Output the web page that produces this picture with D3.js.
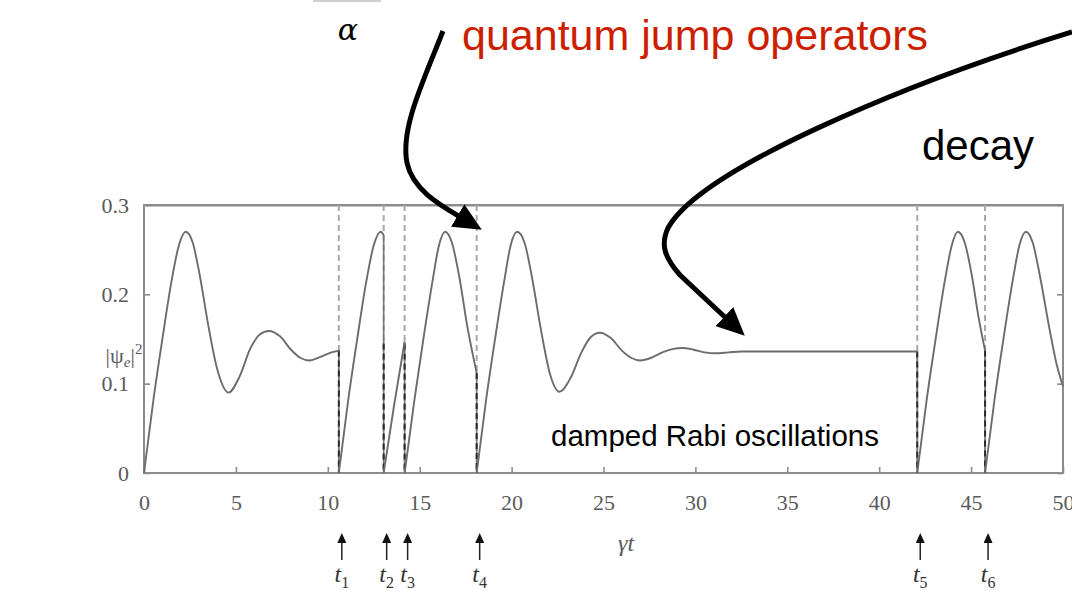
<!DOCTYPE html>
<html>
<head>
<meta charset="utf-8">
<script src="https://cdn.jsdelivr.net/npm/d3@7"></script>
<style>
  html, body { margin: 0; padding: 0; background: #fff; }
  svg { display: block; }
</style>
</head>
<body>
<svg width="1072" height="591"></svg>
<script>
// tick values
const xTicks = [0, 5, 10, 15, 20, 25, 30, 35, 40, 45, 50];
const yTicks = [0, 0.1, 0.2, 0.3];

// jump times t1..t6 (gamma t)
const jumpTimes = [10.6, 13.04, 14.18, 18.1, 42.07, 45.76];
const jumpNames = ['1', '2', '3', '4', '5', '6'];

// |psi_e|^2, one array per stretch between jumps
const seg0 = [[0, 0], [0.5, 0.08], [1.0, 0.15], [1.5, 0.215], [1.9, 0.255], [2.27, 0.27], [2.65, 0.258],
  [3.0, 0.225], [3.5, 0.165], [4.0, 0.115], [4.6, 0.09], [5.2, 0.108], [5.8, 0.14], [6.3, 0.155],
  [6.8, 0.159], [7.4, 0.153], [8.0, 0.138], [8.5, 0.129], [9.0, 0.126], [9.6, 0.13], [10.2, 0.135], [10.6, 0.137]];
const seg1 = [[10.6, 0], [11.1, 0.08], [11.6, 0.15], [12.1, 0.215], [12.5, 0.255], [12.88, 0.27], [13.04, 0.266]];
const seg2 = [[13.04, 0], [13.6, 0.075], [14.18, 0.147]];
const seg3 = [[14.18, 0], [14.7, 0.08], [15.2, 0.15], [15.7, 0.215], [16.05, 0.255], [16.38, 0.27],
  [16.75, 0.258], [17.15, 0.22], [17.6, 0.163], [18.1, 0.112]];
const seg4 = [[18.1, 0], [18.6, 0.08], [19.1, 0.15], [19.6, 0.215], [19.95, 0.255], [20.3, 0.27],
  [20.7, 0.258], [21.1, 0.22], [21.6, 0.16], [22.1, 0.11], [22.6, 0.091], [23.2, 0.106], [23.8, 0.135],
  [24.3, 0.152], [24.8, 0.157], [25.4, 0.151], [26.0, 0.137], [26.5, 0.129], [27.0, 0.126], [27.6, 0.129],
  [28.2, 0.135], [28.8, 0.139], [29.3, 0.14], [29.9, 0.138], [30.5, 0.135], [31.1, 0.134], [31.8, 0.135],
  [32.5, 0.136], [33.5, 0.136], [35, 0.136], [37, 0.136], [39, 0.136], [41, 0.136], [42.07, 0.136]];
const seg5 = [[42.07, 0], [42.57, 0.08], [43.07, 0.15], [43.57, 0.215], [43.95, 0.255], [44.28, 0.27],
  [44.65, 0.258], [45.05, 0.22], [45.4, 0.175], [45.76, 0.137]];
const seg6 = [[45.76, 0], [46.26, 0.08], [46.76, 0.15], [47.26, 0.215], [47.63, 0.255], [47.98, 0.27],
  [48.35, 0.258], [48.75, 0.22], [49.25, 0.163], [49.65, 0.122], [50, 0.097]];
const segments = [seg0, seg1, seg2, seg3, seg4, seg5, seg6];

const svg = d3.select('svg');
const x = d3.scaleLinear().domain([0, 50]).range([144, 1063]);
const y = d3.scaleLinear().domain([0, 0.3]).range([473, 205]);

const frameCol = '#8c8c8c';
const textCol = '#5a5a5a';
const serif = '"Liberation Serif", "DejaVu Serif", serif';
const sans = '"Liberation Sans", Arial, sans-serif';

// little grey bar above alpha (cut-off fraction)
svg.append('line')
    .attr('x1', 313).attr('x2', 381).attr('y1', 1).attr('y2', 1)
    .attr('stroke', '#cfcfcf').attr('stroke-width', 2);

// frame
svg.append('rect')
    .attr('x', x(0)).attr('y', y(0.3))
    .attr('width', x(50) - x(0)).attr('height', y(0) - y(0.3))
    .attr('fill', 'none').attr('stroke', frameCol).attr('stroke-width', 2);
svg.append('line')
    .attr('x1', x(0)).attr('x2', x(50)).attr('y1', y(0.3) + 1.5).attr('y2', y(0.3) + 1.5)
    .attr('stroke', '#c4c4c4').attr('stroke-width', 1.2);

// axes (ticks pointing inside)
const gx = svg.append('g')
    .attr('transform', `translate(0,${y(0)})`)
    .call(d3.axisBottom(x).tickValues(xTicks).tickSize(-6).tickPadding(21).tickFormat(d3.format('d')));
const gy = svg.append('g')
    .attr('transform', `translate(${x(0)},0)`)
    .call(d3.axisLeft(y).tickValues(yTicks).tickSize(-6).tickPadding(15)
      .tickFormat(d => d === 0 ? '0' : d3.format('.1f')(d)));
const gr = svg.append('g')
    .attr('transform', `translate(${x(50)},0)`)
    .call(d3.axisRight(y).tickValues(yTicks).tickSize(-6).tickFormat(''));

[gx, gy, gr].forEach(g => {
  g.select('.domain').remove();
  g.selectAll('line').attr('stroke', frameCol).attr('stroke-width', 1.6);
  g.selectAll('text')
      .attr('fill', textCol)
      .style('font-family', serif)
      .style('font-size', '22px');
});

// dashed jump markers
jumpTimes.forEach((t, i) => {
  const pre = segments[i][segments[i].length - 1][1];
  svg.append('line')
      .attr('x1', x(t)).attr('x2', x(t)).attr('y1', y(0.3)).attr('y2', y(0))
      .attr('stroke', '#a8a8a8').attr('stroke-width', 2).attr('stroke-dasharray', '6,4');
  // drop of the curve to zero
  svg.append('line')
      .attr('x1', x(t)).attr('x2', x(t)).attr('y1', y(pre)).attr('y2', y(0))
      .attr('stroke', '#777').attr('stroke-width', 1.6);
  svg.append('line')
      .attr('x1', x(t)).attr('x2', x(t)).attr('y1', y(Math.min(pre, 0.145))).attr('y2', y(0))
      .attr('stroke', '#2a2a2a').attr('stroke-width', 2).attr('stroke-dasharray', '6,4');
});

// trajectory
const line = d3.line()
    .x(d => x(d[0]))
    .y(d => y(d[1]))
    .curve(d3.curveMonotoneX);

svg.selectAll('path.traj')
    .data(segments)
    .enter()
    .append('path')
    .attr('class', 'traj')
    .attr('d', line)
    .attr('fill', 'none')
    .attr('stroke', '#6c6c6c')
    .attr('stroke-width', 1.9);

// axis labels
const yl = svg.append('text')
    .attr('x', 124).attr('y', 363)
    .attr('text-anchor', 'middle')
    .attr('fill', textCol)
    .style('font-family', serif)
    .style('font-size', '22px');
yl.append('tspan').text('|ψ');
yl.append('tspan').attr('dy', 4).style('font-size', '15px').style('font-style', 'italic').text('e');
yl.append('tspan').attr('dy', -4).text('|');
yl.append('tspan').attr('dy', -9).style('font-size', '15px').text('2');

svg.append('text')
    .attr('x', 626).attr('y', 551)
    .attr('text-anchor', 'middle')
    .attr('fill', textCol)
    .style('font-family', serif)
    .style('font-style', 'italic')
    .style('font-size', '24px')
    .text('γt');

// arrow markers
const defs = svg.append('defs');
defs.append('marker')
    .attr('id', 'bigHead')
    .attr('markerUnits', 'userSpaceOnUse')
    .attr('viewBox', '0 0 28 26')
    .attr('markerWidth', 28).attr('markerHeight', 26)
    .attr('refX', 5).attr('refY', 13)
    .attr('orient', 'auto')
    .append('path')
    .attr('d', 'M0,0 L28,13 L0,26 Z')
    .attr('fill', '#000');
defs.append('marker')
    .attr('id', 'smallHead')
    .attr('markerUnits', 'userSpaceOnUse')
    .attr('viewBox', '0 0 10 9')
    .attr('markerWidth', 11).attr('markerHeight', 9)
    .attr('refX', 2).attr('refY', 4.5)
    .attr('orient', 'auto')
    .append('path')
    .attr('d', 'M0,0 L10,4.5 L0,9 Z')
    .attr('fill', '#111');

// jump time arrows under the axis
jumpTimes.forEach((t, i) => {
  const xx = x(t) + 3;
  svg.append('line')
      .attr('x1', xx).attr('x2', xx).attr('y1', 560).attr('y2', 541)
      .attr('stroke', '#222').attr('stroke-width', 1.5)
      .attr('marker-end', 'url(#smallHead)');
  const lab = svg.append('text')
      .attr('x', xx).attr('y', 582)
      .attr('text-anchor', 'middle')
      .attr('fill', '#333')
      .style('font-family', serif)
      .style('font-size', '24px');
  lab.append('tspan').style('font-style', 'italic').text('t');
  lab.append('tspan').attr('dy', 6).style('font-size', '16px').text(jumpNames[i]);
});

// annotations
svg.append('text')
    .attr('x', 348).attr('y', 40)
    .attr('text-anchor', 'middle')
    .style('font-family', '"DejaVu Serif", serif')
    .style('font-style', 'italic')
    .style('font-size', '30px')
    .attr('fill', '#000')
    .text('α');

svg.append('text')
    .attr('x', 462).attr('y', 50)
    .style('font-family', sans)
    .style('font-size', '43px')
    .attr('fill', '#cc1f00')
    .text('quantum jump operators');

svg.append('text')
    .attr('x', 922).attr('y', 160)
    .style('font-family', sans)
    .style('font-size', '42px')
    .attr('fill', '#000')
    .text('decay');

svg.append('text')
    .attr('x', 551).attr('y', 446)
    .style('font-family', sans)
    .style('font-size', '29.5px')
    .attr('fill', '#000')
    .text('damped Rabi oscillations');

svg.append('path')
    .attr('d', 'M443,31 C424,80 400,128 407,163 C413,190 440,205 462,218')
    .attr('fill', 'none').attr('stroke', '#000').attr('stroke-width', 5)
    .attr('marker-end', 'url(#bigHead)');

svg.append('path')
    .attr('d', 'M1072,32 C900,85 700,170 668,228 C660,245 665,258 680,275 L728,320')
    .attr('fill', 'none').attr('stroke', '#000').attr('stroke-width', 5)
    .attr('marker-end', 'url(#bigHead)');
</script>
</body>
</html>
